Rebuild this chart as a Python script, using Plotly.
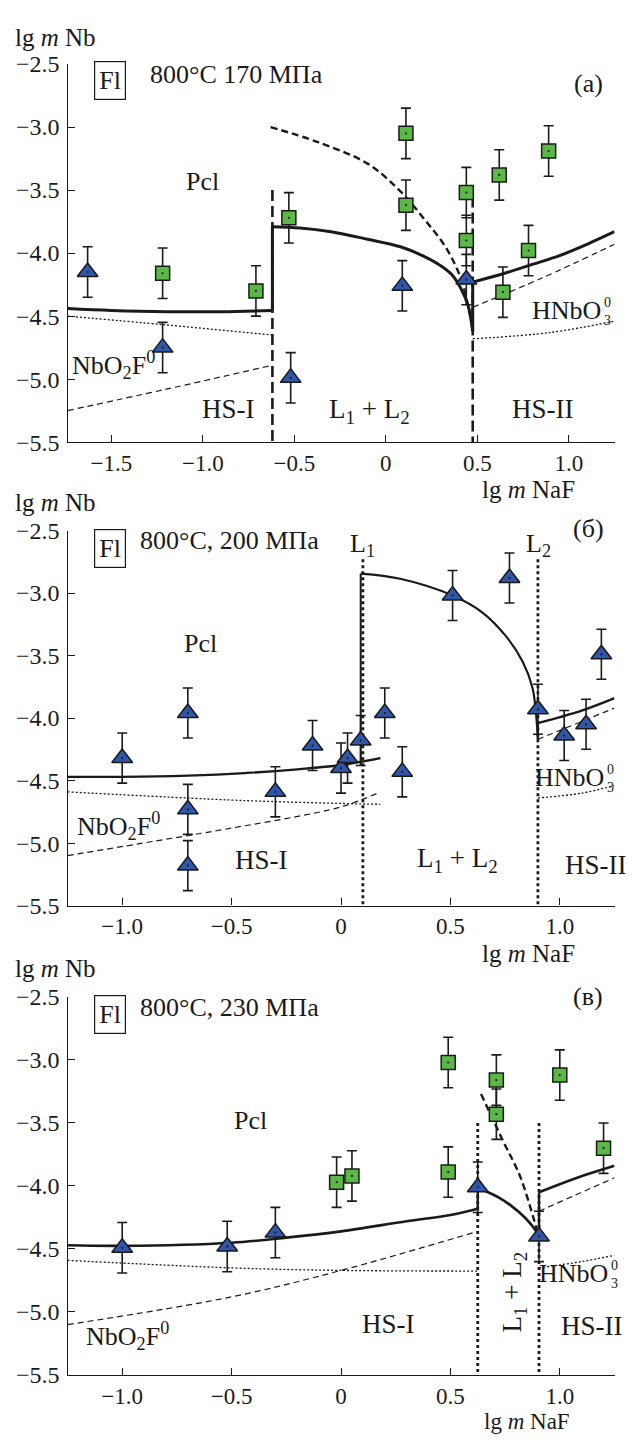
import plotly.graph_objects as go

W, H = 635, 1443
FONT = "Liberation Serif"
BLUE = "#2f56a8"
GREEN = "#5cb846"
INK = "#1a1a1a"

# ---------------- tick labels ----------------
y_tickvals = [-2.5, -3.0, -3.5, -4.0, -4.5, -5.0, -5.5]
y_ticktext = ["−2.5", "−3.0", "−3.5", "−4.0", "−4.5", "−5.0", "−5.5"]
xa_tickvals = [-1.5, -1.0, -0.5, 0.0, 0.5, 1.0]
xa_ticktext = ["−1.5", "−1.0", "−0.5", "0", "0.5", "1.0"]
xb_tickvals = [-1.0, -0.5, 0.0, 0.5, 1.0]
xb_ticktext = ["−1.0", "−0.5", "0", "0.5", "1.0"]

# ---------------- panel (a) 170 MPa ----------------
a_tri_x = [-1.63, -1.22, -0.52, 0.09, 0.44]
a_tri_y = [-4.15, -4.75, -4.99, -4.26, -4.21]
a_sq_x = [-1.22, -0.71, -0.53, 0.11, 0.11, 0.44, 0.44, 0.62, 0.64, 0.78, 0.89]
a_sq_y = [-4.16, -4.30, -3.72, -3.05, -3.62, -3.52, -3.90, -3.38, -4.31, -3.98, -3.19]
a_err = 0.2

a_hs1_x = [-1.74, -1.5, -1.2, -0.9, -0.62]
a_hs1_y = [-4.44, -4.455, -4.465, -4.465, -4.455]
a_v1_x = [-0.62, -0.62]
a_v1_y = [-4.455, -3.79]
a_l12_x = [-0.62, -0.47, -0.3, -0.1, 0.08, 0.2, 0.3, 0.36, 0.41, 0.45, 0.475]
a_l12_y = [-3.79, -3.80, -3.83, -3.89, -3.95, -4.02, -4.10, -4.17, -4.28, -4.42, -4.62]
a_v2_x = [0.475, 0.475]
a_v2_y = [-4.62, -4.23]
a_hs2_x = [0.475, 0.65, 0.8, 0.95, 1.1, 1.25]
a_hs2_y = [-4.23, -4.16, -4.09, -4.02, -3.93, -3.83]
a_dash_x = [-0.63, -0.37, -0.1, 0.08, 0.21, 0.33, 0.41, 0.45, 0.475]
a_dash_y = [-3.0, -3.12, -3.29, -3.51, -3.73, -3.96, -4.2, -4.42, -4.6]
a_bnd1_x = [-0.62, -0.62]
a_bnd1_y = [-3.5, -5.5]
a_bnd2_x = [0.475, 0.475]
a_bnd2_y = [-3.55, -5.5]
a_nbdot_x = [-1.74, -1.2, -0.62]
a_nbdot_y = [-4.50, -4.57, -4.65]
a_nbdash_x = [-1.74, -1.2, -0.62]
a_nbdash_y = [-5.25, -5.08, -4.89]
a_hndash_x = [0.475, 0.85, 1.25]
a_hndash_y = [-4.43, -4.20, -3.93]
a_hndot_x = [0.475, 0.9, 1.25]
a_hndot_y = [-4.68, -4.63, -4.54]

# ---------------- panel (б) 200 MPa ----------------
b_tri_x = [-1.0, -0.7, -0.7, -0.7, -0.3, -0.13, 0.0, 0.03, 0.09, 0.2, 0.28,
           0.51, 0.77, 0.9, 1.02, 1.12, 1.19]
b_tri_y = [-4.32, -3.96, -4.73, -5.18, -4.59, -4.22, -4.40, -4.32, -4.18, -3.96, -4.43,
           -3.02, -2.88, -3.93, -4.14, -4.05, -3.49]
b_err = 0.2

b_hs1_x = [-1.25, -1.0, -0.7, -0.44, -0.2, 0.0, 0.18]
b_hs1_y = [-4.47, -4.47, -4.46, -4.44, -4.41, -4.375, -4.32]
b_v1_x = [0.09, 0.09]
b_v1_y = [-4.38, -2.845]
b_l12_x = [0.09, 0.27, 0.51, 0.645, 0.75, 0.83, 0.875, 0.89, 0.9]
b_l12_y = [-2.845, -2.886, -3.02, -3.154, -3.337, -3.547, -3.757, -3.94, -4.17]
b_v2_x = [0.9, 0.9]
b_v2_y = [-4.17, -4.04]
b_hs2_x = [0.9, 1.1, 1.25]
b_hs2_y = [-4.04, -3.94, -3.84]
b_bnd1_x = [0.1, 0.1]
b_bnd1_y = [-2.73, -5.5]
b_bnd2_x = [0.9, 0.9]
b_bnd2_y = [-2.73, -5.5]
b_nbdot_x = [-1.25, -0.44, 0.18]
b_nbdot_y = [-4.59, -4.66, -4.69]
b_nbdash_x = [-1.25, -0.7, -0.5, 0.0, 0.18]
b_nbdash_y = [-5.10, -4.94, -4.88, -4.71, -4.59]
b_hndash_x = [0.9, 1.25]
b_hndash_y = [-4.17, -3.92]
b_hndot_x = [0.9, 1.1, 1.25]
b_hndot_y = [-4.64, -4.60, -4.54]

# ---------------- panel (в) 230 MPa ----------------
c_tri_x = [-1.0, -0.52, -0.3, 0.625, 0.905]
c_tri_y = [-4.49, -4.48, -4.37, -4.01, -4.40]
c_sq_x = [-0.02, 0.05, 0.49, 0.49, 0.71, 0.71, 1.0, 1.2]
c_sq_y = [-3.97, -3.92, -3.02, -3.89, -3.16, -3.43, -3.12, -3.70]
c_err = 0.2

c_hs1_x = [-1.25, -1.0, -0.5, -0.25, 0.0, 0.3, 0.5, 0.625]
c_hs1_y = [-4.47, -4.475, -4.45, -4.41, -4.36, -4.28, -4.23, -4.18]
c_v1_x = [0.625, 0.625]
c_v1_y = [-4.18, -4.01]
c_l12_x = [0.625, 0.66, 0.72, 0.78, 0.84, 0.88, 0.905]
c_l12_y = [-4.01, -4.04, -4.09, -4.16, -4.25, -4.33, -4.40]
c_v2_x = [0.905, 0.905]
c_v2_y = [-4.40, -4.05]
c_hs2_x = [0.905, 1.07, 1.25]
c_hs2_y = [-4.05, -3.94, -3.84]
c_dash_x = [0.64, 0.74, 0.82, 0.9]
c_dash_y = [-3.27, -3.64, -3.93, -4.38]
c_bnd1_x = [0.625, 0.625]
c_bnd1_y = [-3.5, -5.5]
c_bnd2_x = [0.905, 0.905]
c_bnd2_y = [-3.5, -5.5]
c_nbdot_x = [-1.25, -0.5, 0.0, 0.625]
c_nbdot_y = [-4.59, -4.65, -4.67, -4.675]
c_nbdash_x = [-1.25, -0.5, 0.0, 0.625]
c_nbdash_y = [-5.10, -4.88, -4.67, -4.36]
c_hndash_x = [0.905, 1.25]
c_hndash_y = [-4.20, -3.935]
c_hndot_x = [0.905, 1.1, 1.25]
c_hndot_y = [-4.65, -4.60, -4.55]

# ---------------- figure ----------------
fig = go.Figure()

PX_L, PX_R = 67.5, 614.5
PANELS = [(52, 437), (527, 909), (1002, 1387)]


def py2paper(py):
    return 1 - py / H


def px2paper(px):
    return px / W


def line(ax, x, y, width, dash="solid", shape="linear"):
    fig.add_trace(go.Scatter(
        x=x, y=y, mode="lines", xaxis="x" + ax, yaxis="y" + ax,
        line=dict(color=INK, width=width, dash=dash, shape=shape, smoothing=1.0),
        hoverinfo="skip", showlegend=False))


def points(ax, x, y, err, symbol, color, size):
    fig.add_trace(go.Scatter(
        x=x, y=y, mode="markers", xaxis="x" + ax, yaxis="y" + ax,
        marker=dict(symbol=symbol, size=size, color=color,
                    line=dict(color=INK, width=1.5)),
        error_y=dict(type="constant", value=err, thickness=1.6, width=5, color=INK),
        showlegend=False))
    fig.add_trace(go.Scatter(
        x=x, y=y, mode="markers", xaxis="x" + ax, yaxis="y" + ax,
        marker=dict(symbol="circle", size=2.2, color=INK),
        hoverinfo="skip", showlegend=False))


THIN_DOT = "2px,2px"
THIN_DASH = "6px,4px"
A, B, C = "", "2", "3"

line(A, a_nbdot_x, a_nbdot_y, 1.3, THIN_DOT, "spline")
line(A, a_nbdash_x, a_nbdash_y, 1.2, THIN_DASH, "spline")
line(A, a_hndash_x, a_hndash_y, 1.2, THIN_DASH, "spline")
line(A, a_hndot_x, a_hndot_y, 1.3, THIN_DOT, "spline")
line(A, a_bnd1_x, a_bnd1_y, 2.6, "11px,5px")
line(A, a_bnd2_x, a_bnd2_y, 2.6, "11px,5px")
line(A, a_dash_x, a_dash_y, 2.4, "7px,4px", "spline")
line(A, a_hs1_x, a_hs1_y, 3.0, "solid", "spline")
line(A, a_v1_x, a_v1_y, 3.0)
line(A, a_l12_x, a_l12_y, 3.0, "solid", "spline")
line(A, a_v2_x, a_v2_y, 3.0)
line(A, a_hs2_x, a_hs2_y, 3.0, "solid", "spline")
points(A, a_tri_x, a_tri_y, a_err, "triangle-up", BLUE, 18)
points(A, a_sq_x, a_sq_y, a_err, "square", GREEN, 14)

line(B, b_nbdot_x, b_nbdot_y, 1.3, THIN_DOT, "spline")
line(B, b_nbdash_x, b_nbdash_y, 1.2, THIN_DASH, "spline")
line(B, b_hndash_x, b_hndash_y, 1.2, THIN_DASH, "spline")
line(B, b_hndot_x, b_hndot_y, 1.3, THIN_DOT, "spline")
line(B, b_bnd1_x, b_bnd1_y, 2.8, "dot")
line(B, b_bnd2_x, b_bnd2_y, 2.8, "dot")
line(B, b_hs1_x, b_hs1_y, 2.4, "solid", "spline")
line(B, b_v1_x, b_v1_y, 2.0)
line(B, b_l12_x, b_l12_y, 2.2, "solid", "spline")
line(B, b_v2_x, b_v2_y, 2.2)
line(B, b_hs2_x, b_hs2_y, 2.4, "solid", "spline")
points(B, b_tri_x, b_tri_y, b_err, "triangle-up", BLUE, 18)

line(C, c_nbdot_x, c_nbdot_y, 1.3, THIN_DOT, "spline")
line(C, c_nbdash_x, c_nbdash_y, 1.2, THIN_DASH, "spline")
line(C, c_hndash_x, c_hndash_y, 1.2, THIN_DASH, "spline")
line(C, c_hndot_x, c_hndot_y, 1.3, THIN_DOT, "spline")
line(C, c_bnd1_x, c_bnd1_y, 2.8, "dot")
line(C, c_bnd2_x, c_bnd2_y, 2.8, "dot")
line(C, c_dash_x, c_dash_y, 2.4, "7px,4px", "spline")
line(C, c_hs1_x, c_hs1_y, 2.6, "solid", "spline")
line(C, c_v1_x, c_v1_y, 2.4)
line(C, c_l12_x, c_l12_y, 2.6, "solid", "spline")
line(C, c_v2_x, c_v2_y, 2.4)
line(C, c_hs2_x, c_hs2_y, 2.6, "solid", "spline")
points(C, c_sq_x, c_sq_y, c_err, "square", GREEN, 14)
points(C, c_tri_x, c_tri_y, c_err, "triangle-up", BLUE, 18)

# axes
axis_common = dict(showline=True, linecolor=INK, linewidth=1.3, ticks="inside",
                   ticklen=7, tickwidth=1.3, tickcolor=INK, showgrid=False,
                   zeroline=False, tickfont=dict(family=FONT, size=24, color=INK),
                   fixedrange=True)
xdom = [px2paper(PX_L), px2paper(PX_R)]
x_ranges = [[-1.74, 1.25], [-1.25, 1.25], [-1.25, 1.25]]
x_ticks = [(xa_tickvals, xa_ticktext), (xb_tickvals, xb_ticktext), (xb_tickvals, xb_ticktext)]
for i, (top, bot) in enumerate(PANELS):
    suf = "" if i == 0 else str(i + 1)
    fig.update_layout(**{
        "xaxis" + suf: dict(axis_common, domain=xdom, range=x_ranges[i],
                            anchor="y" + suf, tickvals=x_ticks[i][0],
                            ticktext=x_ticks[i][1], ticklabelstandoff=0,
                            tickfont=dict(family=FONT, size=23, color=INK)),
        "yaxis" + suf: dict(axis_common, domain=[py2paper(bot), py2paper(top)],
                            range=[-5.5, -2.5], anchor="x" + suf,
                            tickvals=y_tickvals, ticktext=y_ticktext,
                            ticklabelstandoff=2),
    })

ann = []


def text(px, py, s, size=26, xanchor="center", angle=0, **kw):
    ann.append(dict(x=px2paper(px), y=py2paper(py), xref="paper", yref="paper",
                    text=s, showarrow=False, xanchor=xanchor, yanchor="middle",
                    textangle=angle,
                    font=dict(family=FONT, size=size, color=INK), **kw))


def boxed(px, py, s):
    text(px, py, s, 26, bordercolor=INK, borderwidth=1.2, borderpad=4)


def hnbo3(px_right, py):
    # HNbO followed by a stacked superscript 0 over subscript 3
    text(px_right, py, "HNbO", 26, xanchor="right", borderpad=0)
    text(px_right + 1, py + 1, "0<br>3", 14, xanchor="left", borderpad=0)


NB = "NbO<sub>2</sub>F<sup>0</sup>"
L12 = "L<sub>1</sub> + L<sub>2</sub>"
YT = "lg <i>m</i> Nb"
XT = "lg <i>m</i> NaF"

# panel a
text(55, 25, YT, 25)
text(528, 485, XT, 25)
boxed(110, 69, "Fl")
text(148, 63, "800°C 170 МПа", 26, xanchor="left")
text(588, 72, "(a)", 26)
text(202, 172, "Pcl", 26)
text(113, 358, NB, 26)
text(228, 403, "HS-I", 27)
text(369, 405, L12, 27)
text(543, 403, "HS-II", 27)
hnbo3(602, 303)

# panel b
text(55, 498, YT, 25)
text(528, 958, XT, 25)
boxed(110, 545, "Fl")
text(138, 537, "800°C, 200 МПа", 26, xanchor="left")
text(588, 525, "(б)", 26)
text(362, 542, "L<sub>1</sub>", 26)
text(538, 542, "L<sub>2</sub>", 26)
text(200, 642, "Pcl", 26)
text(118, 828, NB, 26)
text(261, 863, "HS-I", 27)
text(457, 863, L12, 27)
text(596, 868, "HS-II", 27)
hnbo3(605, 779)

# panel c
text(55, 973, YT, 25)
text(527, 1434, XT, 23, borderpad=0)
boxed(110, 1020, "Fl")
text(138, 1013, "800°C, 230 МПа", 26, xanchor="left")
text(588, 1002, "(в)", 26)
text(250, 1128, "Pcl", 26)
text(127, 1347, NB, 26)
text(388, 1335, "HS-I", 27)
text(514, 1303, L12, 27, angle=-90)
text(592, 1337, "HS-II", 27)
hnbo3(609, 1284)

fig.update_layout(width=W, height=H, margin=dict(l=0, r=0, t=0, b=0),
                  paper_bgcolor="white", plot_bgcolor="white",
                  annotations=ann, showlegend=False,
                  font=dict(family=FONT, color=INK))

fig.write_html("out.html", config={"displayModeBar": False})
with open("out.html", "r", encoding="utf-8") as f:
    html = f.read()
html = html.replace("<head>", "<head><style>html,body{margin:0;padding:0;overflow:hidden;}</style>", 1)
with open("out.html", "w", encoding="utf-8") as f:
    f.write(html)
